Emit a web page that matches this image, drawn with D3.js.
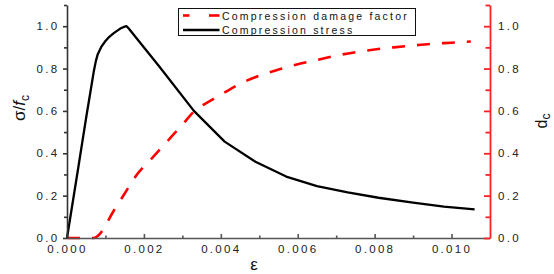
<!DOCTYPE html>
<html lang="en">
<head>
  <meta charset="UTF-8">
  <title>Compression stress and damage factor</title>
  <script src="https://d3js.org/d3.v7.min.js"></script>
  <style>
    body {
      margin: 0;
      background: #fff;
      font-family: Arial, "Liberation Sans", sans-serif;
    }
    .tick text {
      font-size: 11.5px;
      letter-spacing: 2.3px;
      fill: #222;
    }
    .legend-text {
      font-size: 10.5px;
      letter-spacing: 2.2px;
      fill: #111;
    }
  </style>
</head>
<body>
  <div id="chart"></div>
  <script>
    // strain values and the two series
    const stressStrain = [0, 0.0003, 0.0005, 0.0006, 0.0007, 0.00075, 0.0008, 0.0009, 0.001, 0.0011, 0.0012, 0.0013,
      0.0014, 0.0015, 0.00155, 0.0016, 0.0024, 0.0033, 0.0041, 0.0049, 0.0057, 0.0065, 0.0073, 0.0081, 0.009,
      0.0098, 0.0106];
    const stressValues = [0, 0.34, 0.57, 0.68, 0.79, 0.835, 0.868, 0.905, 0.93, 0.95, 0.965, 0.978,
      0.99, 0.998, 1.0, 0.99, 0.81, 0.6, 0.455, 0.36, 0.29, 0.245, 0.215, 0.19, 0.167,
      0.148, 0.135];

    const damageStrain = [0, 0.0007, 0.0008, 0.0009, 0.001, 0.0012, 0.0015, 0.0018, 0.0022, 0.0026, 0.003, 0.0033,
      0.0037, 0.0041, 0.0045, 0.005, 0.0055, 0.006, 0.0065, 0.007, 0.0075, 0.008, 0.0085, 0.009, 0.0095, 0.01, 0.0105];
    const damageValues = [0, 0, 0.01, 0.03, 0.06, 0.124, 0.21, 0.295, 0.375, 0.455, 0.535, 0.597,
      0.645, 0.687, 0.728, 0.766, 0.795, 0.82, 0.84, 0.861, 0.877, 0.89, 0.9, 0.909, 0.917, 0.922, 0.928];

    const xTicks = [0, 0.002, 0.004, 0.006, 0.008, 0.010];
    const xMinor = [0.001, 0.003, 0.005, 0.007, 0.009];
    const yTicks = [0, 0.2, 0.4, 0.6, 0.8, 1.0];
    const yMinor = [0.1, 0.3, 0.5, 0.7, 0.9, 1.1];

    const legendLabels = ["Compression damage factor", "Compression stress"];

    const W = 554, H = 274;
    const plotLeft = 67, plotRight = 490, plotTop = 5, plotBottom = 238;

    const svg = d3.select("#chart").append("svg")
      .attr("width", W)
      .attr("height", H);

    const x = d3.scaleLinear().domain([0, 0.011]).range([plotLeft, plotRight]);
    const y = d3.scaleLinear().domain([0, 1.1]).range([plotBottom, plotTop]);

    const stress = stressStrain.map((e, i) => [e, stressValues[i]]);
    const damage = damageStrain.map((e, i) => [e, damageValues[i]]);

    const smooth = d3.line()
      .x(d => x(d[0]))
      .y(d => y(d[1]))
      .curve(d3.curveMonotoneX);
    const straight = d3.line()
      .x(d => x(d[0]))
      .y(d => y(d[1]));

    // curves
    svg.append("path")
      .datum(damage)
      .attr("fill", "none")
      .attr("stroke", "#ff0000")
      .attr("stroke-width", 2.6)
      .attr("stroke-dasharray", "13,12")
      .attr("d", smooth);

    svg.append("path")
      .datum(stress)
      .attr("fill", "none")
      .attr("stroke", "#000")
      .attr("stroke-width", 2.3)
      .attr("stroke-linejoin", "round")
      .attr("d", straight);

    // bottom axis, ticks point inward
    const xAxis = svg.append("g")
      .attr("transform", "translate(0," + plotBottom + ")")
      .call(d3.axisBottom(x).tickValues(xTicks).tickFormat(d3.format(".3f"))
        .tickSizeInner(-4).tickSizeOuter(0).tickPadding(7));
    const xAxisMinor = svg.append("g")
      .attr("transform", "translate(0," + plotBottom + ")")
      .call(d3.axisBottom(x).tickValues(xMinor).tickFormat("")
        .tickSizeInner(-2.5).tickSizeOuter(0))
      .call(g => g.select(".domain").remove());
    [xAxis, xAxisMinor].forEach(g => g.selectAll(".domain, line")
      .attr("stroke", "#555").attr("stroke-width", 1.6));

    // left axis
    const yAxis = svg.append("g")
      .attr("transform", "translate(" + plotLeft + ",0)")
      .call(d3.axisLeft(y).tickValues(yTicks).tickFormat(d3.format(".1f"))
        .tickSizeInner(4).tickSizeOuter(0).tickPadding(3.5));
    const yAxisMinor = svg.append("g")
      .attr("transform", "translate(" + plotLeft + ",0)")
      .call(d3.axisLeft(y).tickValues(yMinor).tickFormat("")
        .tickSizeInner(3).tickSizeOuter(0))
      .call(g => g.select(".domain").remove());
    [yAxis, yAxisMinor].forEach(g => g.selectAll(".domain, line")
      .attr("stroke", "#333").attr("stroke-width", 1.6));

    // right axis (damage), red, ticks inward
    const rAxis = svg.append("g")
      .attr("transform", "translate(" + plotRight + ",0)")
      .call(d3.axisRight(y).tickValues(yTicks).tickFormat(d3.format(".1f"))
        .tickSizeInner(-6).tickSizeOuter(0).tickPadding(8));
    const rAxisMinor = svg.append("g")
      .attr("transform", "translate(" + plotRight + ",0)")
      .call(d3.axisRight(y).tickValues(yMinor).tickFormat("")
        .tickSizeInner(-4.5).tickSizeOuter(0))
      .call(g => g.select(".domain").remove());
    [rAxis, rAxisMinor].forEach(g => g.selectAll(".domain, line")
      .attr("stroke", "#ff2020").attr("stroke-width", 1.8));

    svg.selectAll("g").attr("font-family", null).attr("font-size", null);

    // axis titles
    const yl = svg.append("text")
      .attr("transform", "translate(25,108) rotate(-90)")
      .attr("text-anchor", "middle")
      .style("font-size", "17px")
      .attr("fill", "#111");
    yl.append("tspan").text("σ/");
    yl.append("tspan").style("font-style", "italic").text("f");
    yl.append("tspan").attr("dy", 4).style("font-size", "12px").text("c");

    const rl = svg.append("text")
      .attr("transform", "translate(547,121) rotate(-90)")
      .attr("text-anchor", "middle")
      .style("font-size", "16px")
      .attr("fill", "#111");
    rl.append("tspan").text("d");
    rl.append("tspan").attr("dy", 3).style("font-size", "12px").text("c");

    svg.append("text")
      .attr("x", 254)
      .attr("y", 270)
      .attr("text-anchor", "middle")
      .style("font-size", "17px")
      .attr("fill", "#111")
      .text("ε");

    // legend
    svg.append("rect")
      .attr("x", 178.5).attr("y", 8.5)
      .attr("width", 237).attr("height", 27)
      .attr("fill", "#fff")
      .attr("stroke", "#111")
      .attr("stroke-width", 1);

    [[183, 189.5], [209, 219.5]].forEach(s => {
      svg.append("line")
        .attr("x1", s[0]).attr("x2", s[1])
        .attr("y1", 15.5).attr("y2", 15.5)
        .attr("stroke", "#ff0000").attr("stroke-width", 2.6);
    });
    svg.append("line")
      .attr("x1", 183).attr("x2", 219.5)
      .attr("y1", 30).attr("y2", 30)
      .attr("stroke", "#000").attr("stroke-width", 2.3);

    svg.selectAll(".legend-text")
      .data(legendLabels)
      .enter().append("text")
      .attr("class", "legend-text")
      .attr("x", 222)
      .attr("y", (d, i) => 19.5 + i * 14)
      .text(d => d);
  </script>
</body>
</html>
